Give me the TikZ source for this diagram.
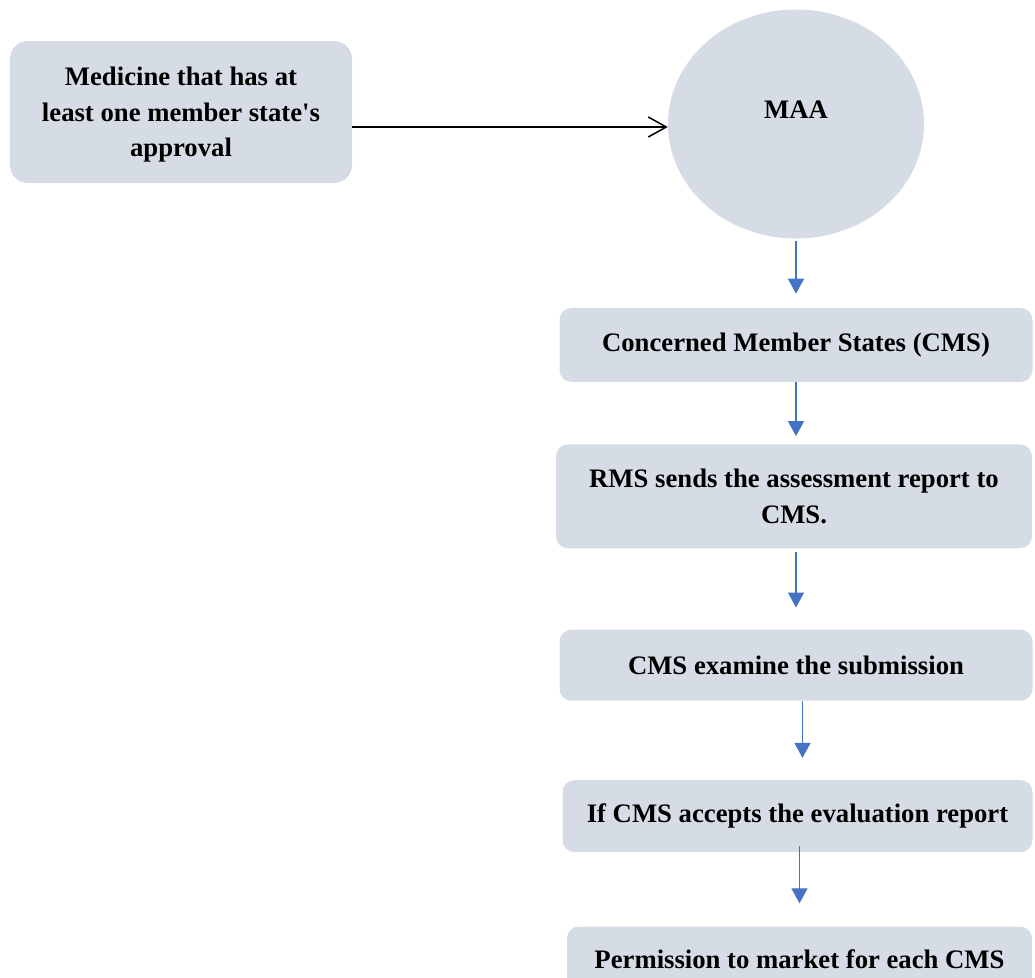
\documentclass[tikz,border=0pt]{standalone}
\usepackage{fontspec}
\setmainfont{Liberation Serif}[Ligatures=TeXOff]
\usepackage{tikz}
\usetikzlibrary{shapes.geometric, arrows.meta, positioning}
\definecolor{boxfill}{RGB}{214,220,229}
\definecolor{arrowblue}{RGB}{68,114,196}
\tikzset{
  % flow chart boxes
  stepbox/.style={
    rectangle, rounded corners=12pt,
    fill=boxfill, align=center, inner sep=0pt,
    font=\fontsize{26.7}{35.5}\selectfont\bfseries
  },
  agencynode/.style={
    ellipse, fill=boxfill, inner sep=0pt,
    minimum width=256pt, minimum height=229pt,
    font=\fontsize{26.7}{35.5}\selectfont\bfseries
  },
  flowarrow/.style={
    -{Triangle[length=15pt,width=16pt]}, line width=1.3pt, draw=arrowblue
  },
  linkarrow/.style={
    -{Straight Barb[length=18pt,width=20pt]}, line width=1.5pt, draw=black
  }
}
\begin{document}
\begin{tikzpicture}[x=1pt, y=-1pt]
  \useasboundingbox (0,0) rectangle (1035,977);
  \clip (0,0) rectangle (1035,977);

  \node[stepbox, rounded corners=18pt, minimum width=342pt, minimum height=142pt, text depth=0pt] (med) at (181,112)
    {Medicine that has at\\least one member state's\\approval};
  \node[agencynode, text depth=28pt] (maa) at (796,124) {MAA};
  \node[stepbox, minimum width=473pt, minimum height=74pt, below=69pt of maa] (cms)
    {Concerned Member States (CMS)};
  \node[stepbox, minimum width=476pt, minimum height=104pt, below=62pt of cms, xshift=-2pt] (rms)
    {RMS sends the assessment report to\\CMS.};
  \node[stepbox, minimum width=473pt, minimum height=71pt, below=81pt of rms, xshift=2pt] (exam)
    {CMS examine the submission};
  \node[stepbox, minimum width=470pt, minimum height=72pt, below=79pt of exam, xshift=1.5pt] (accept)
    {If CMS accepts the evaluation report};
  \node[stepbox, minimum width=465pt, minimum height=66pt, below=74pt of accept, xshift=2pt] (perm)
    {Permission to market for each CMS};

  \draw[linkarrow] ([yshift=-15pt]med.east) -- ([yshift=-15pt]med.east -| maa.west);
  \draw[flowarrow, shorten <=2pt, shorten >=14pt] (maa.south) -- (maa.south |- cms.north);
  \draw[flowarrow, shorten >=8pt] (cms.south) -- (cms.south |- rms.north);
  \draw[flowarrow, shorten <=3pt, shorten >=22pt] (rms.south -| cms.south) -- (cms.south |- exam.north);
  \draw[flowarrow, shorten >=22pt] ([xshift=6.5pt]exam.south) -- ([xshift=6.5pt]exam.south |- accept.north);
  \draw[flowarrow, shorten <=-6pt, shorten >=23pt] ([xshift=2pt]accept.south) -- ([xshift=2pt]accept.south |- perm.north);

\end{tikzpicture}
\end{document}
